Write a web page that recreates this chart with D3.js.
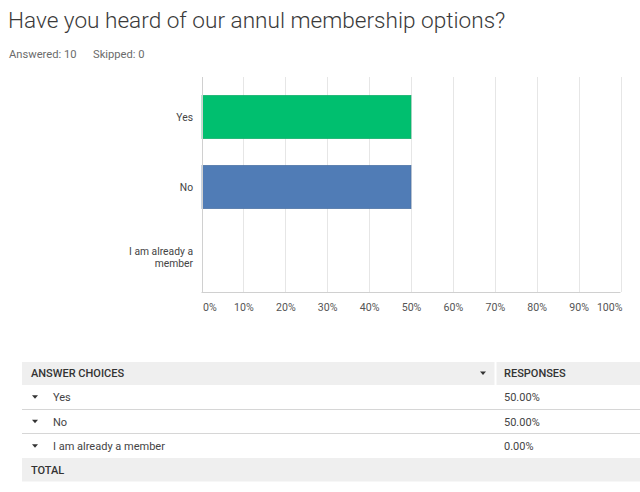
<!DOCTYPE html>
<html>
<head>
<meta charset="utf-8">
<script src="https://cdn.jsdelivr.net/npm/d3@7"></script>
<style>
  html, body { margin: 0; padding: 0; background: #fff; }
  svg { display: block; }
</style>
</head>
<body>
<svg id="chart" width="640" height="492"></svg>
<script>
const title = "Have you heard of our annul membership options?";
const answered = 10;
const skipped = 0;
const categories = ["Yes", "No", "I am already a member"];
const categoryLines = [["Yes"], ["No"], ["I am already a", "member"]];
const values = [50, 50, 0];
const barColors = ["#00bf6f", "#507cb6", "#a0a0a0"];
const barStrokes = ["#0fa866", "#466d9f", "#888"];
const xTicks = [0, 10, 20, 30, 40, 50, 60, 70, 80, 90, 100];
const tableHeaders = ["ANSWER CHOICES", "RESPONSES"];
const tableValues = ["50.00%", "50.00%", "0.00%"];
const totalLabel = "TOTAL";

(function () {
const svg = d3.select("#chart");
const font = "Roboto, 'Open Sans', sans-serif";

// Title
svg.append("text").attr("x", 8).attr("y", 28)
  .attr("font-family", font).attr("font-weight", 300)
  .attr("font-size", 22.6).attr("fill", "#3a3a3a")
  .text(title);

svg.append("text").attr("x", 9).attr("y", 58)
  .attr("font-family", font).attr("font-size", 11.2).attr("fill", "#6b6b6b")
  .text("Answered: " + answered);
svg.append("text").attr("x", 93).attr("y", 58)
  .attr("font-family", font).attr("font-size", 11.2).attr("fill", "#6b6b6b")
  .text("Skipped: " + skipped);

// Chart
const pL = 201.5, pR = 620.5, pT = 82, pB = 292;
const x = d3.scaleLinear().domain([0, 100]).range([pL, pR]);
const y = d3.scaleBand().domain(categories).range([pT, pB])
  .paddingInner(0.38).paddingOuter(0.19);

const g = svg.append("g");

// gridlines
g.selectAll("line.grid").data(xTicks.slice(1)).join("line")
  .attr("class", "grid")
  .attr("x1", d => Math.round(x(d)) + 0.5).attr("x2", d => Math.round(x(d)) + 0.5)
  .attr("y1", 77).attr("y2", pB)
  .attr("stroke", "#e6e6e6").attr("stroke-width", 1);

// bars
g.selectAll("rect.bar").data(categories).join("rect")
  .attr("class", "bar")
  .attr("x", x(0) + 0.5)
  .attr("y", d => y(d))
  .attr("width", (d, i) => Math.max(0, x(values[i]) - x(0) - 0.5))
  .attr("height", y.bandwidth())
  .attr("fill", (d, i) => barColors[i])
  .attr("stroke", (d, i) => values[i] > 0 ? barStrokes[i] : "none")
  .attr("stroke-width", 0.6);

// left axis line
g.append("line").attr("x1", Math.round(x(0)) + 0.5).attr("x2", Math.round(x(0)) + 0.5)
  .attr("y1", 77).attr("y2", pB).attr("stroke", "#d0d0d0");
// bottom axis line
g.append("line").attr("x1", x(0)).attr("x2", x(100))
  .attr("y1", pB + 0.5).attr("y2", pB + 0.5).attr("stroke", "#d0d0d0");

// x tick labels via axis
const xAxis = d3.axisBottom(x).tickValues(xTicks).tickFormat(d => d + "%").tickSize(0).tickPadding(0);
const ax = svg.append("g").attr("transform", `translate(0, ${pB + 12})`).call(xAxis);
ax.select(".domain").remove();
ax.selectAll("text")
  .attr("font-family", font).attr("font-size", 10.6).attr("fill", "#555")
  .attr("dy", "0.32em").attr("y", 4)
  .attr("text-anchor", d => d === 0 ? "start" : (d === 100 ? "end" : "middle"))
  .attr("x", d => d === 0 ? 1 : (d === 100 ? 1.5 : 0));

// y category labels
const yl = svg.append("g");
categories.forEach((c, i) => {
  const lines = categoryLines[i];
  const cy = y(c) + y.bandwidth() / 2;
  const t = yl.append("text")
    .attr("font-family", font).attr("font-size", 10.3).attr("fill", "#444")
    .attr("text-anchor", "end");
  lines.forEach((ln, j) => {
    t.append("tspan").attr("x", 193)
      .attr("y", cy + (j - (lines.length - 1) / 2) * 12)
      .attr("dy", "0.35em").text(ln);
  });
});

// Table
const tL = 22, tR = 640;
const headTop = 362, rowH = 24.5;
const fs = 11;
const tbl = svg.append("g");
tbl.append("rect").attr("x", tL).attr("y", headTop).attr("width", tR - tL).attr("height", 23)
  .attr("fill", "#efefef");
tbl.append("line").attr("x1", 495.5).attr("x2", 495.5).attr("y1", headTop).attr("y2", headTop + 23)
  .attr("stroke", "#fff").attr("stroke-width", 2);
tbl.append("text").attr("x", 31).attr("y", headTop + 11.5).attr("dy", "0.35em")
  .attr("font-family", font).attr("font-weight", 500).attr("font-size", fs).attr("fill", "#333")
  .text(tableHeaders[0]);
tbl.append("text").attr("x", 504).attr("y", headTop + 11.5).attr("dy", "0.35em")
  .attr("font-family", font).attr("font-weight", 500).attr("font-size", fs).attr("fill", "#333")
  .text(tableHeaders[1]);
tbl.append("path").attr("d", `M${480},${headTop + 9.5} l6,0 l-3,3.5 z`).attr("fill", "#333");

categories.forEach((c, i) => {
  const rTop = headTop + 23 + i * rowH;
  const cy = rTop + rowH / 2;
  tbl.append("path").attr("d", `M${32},${cy - 2} l6,0 l-3,3.5 z`).attr("fill", "#333");
  tbl.append("text").attr("x", 53).attr("y", cy).attr("dy", "0.35em")
    .attr("font-family", font).attr("font-size", fs).attr("fill", "#444").text(c);
  tbl.append("text").attr("x", 504).attr("y", cy).attr("dy", "0.35em")
    .attr("font-family", font).attr("font-size", fs).attr("fill", "#444").text(tableValues[i]);
  if (i < categories.length - 1) {
    tbl.append("line").attr("x1", tL).attr("x2", tR)
      .attr("y1", Math.round(rTop + rowH) - 0.5).attr("y2", Math.round(rTop + rowH) - 0.5)
      .attr("stroke", "#d6d6d6");
  }
});
const totTop = headTop + 23 + 3 * rowH - 0.5;
tbl.append("rect").attr("x", tL).attr("y", totTop).attr("width", tR - tL).attr("height", 23.5)
  .attr("fill", "#efefef");
tbl.append("text").attr("x", 31).attr("y", totTop + 12).attr("dy", "0.35em")
  .attr("font-family", font).attr("font-weight", 500).attr("font-size", fs).attr("fill", "#333")
  .text(totalLabel);
})();
</script>
</body>
</html>
